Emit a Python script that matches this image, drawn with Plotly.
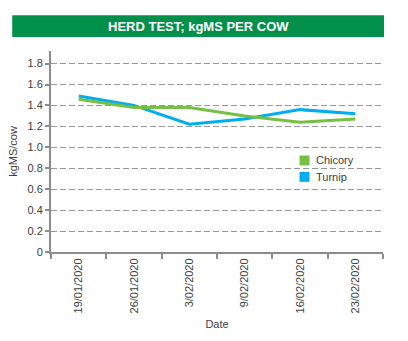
import plotly.graph_objects as go

dates = ["19/01/2020", "26/01/2020", "3/02/2020", "9/02/2020", "16/02/2020", "23/02/2020"]
chicory = [1.46, 1.38, 1.38, 1.30, 1.24, 1.27]
turnip = [1.49, 1.40, 1.22, 1.27, 1.36, 1.32]
series_names = ["Chicory", "Turnip"]
colors = ["#76C043", "#00AEEF"]
yticks = [0, 0.2, 0.4, 0.6, 0.8, 1.0, 1.2, 1.4, 1.6, 1.8]
yticklabels = ["0", "0.2", "0.4", "0.6", "0.8", "1.0", "1.2", "1.4", "1.6", "1.8"]

FONT = "Liberation Sans, Arial, sans-serif"

fig = go.Figure()
# lines (turnip first so chicory is on top)
fig.add_trace(go.Scatter(x=dates, y=turnip, mode="lines", name=series_names[1],
                         line=dict(color=colors[1], width=3), showlegend=False))
fig.add_trace(go.Scatter(x=dates, y=chicory, mode="lines", name=series_names[0],
                         line=dict(color=colors[0], width=3), showlegend=False))

W, H = 408, 341
L, R, T, B = 49, 25, 51, 88
pw, ph = W - L - R, H - T - B

def px2paper_x(px):
    return (px - L) / pw

def px2paper_y(py):
    return (H - B - py) / ph

# title banner
fig.add_shape(type="rect", xref="paper", yref="paper",
              x0=px2paper_x(10), x1=px2paper_x(384), y0=px2paper_y(37), y1=px2paper_y(15),
              fillcolor="#00904A", line=dict(width=0), layer="above")
fig.add_annotation(text="<b>HERD TEST; kgMS PER COW</b>", xref="paper", yref="paper",
                   x=px2paper_x(197), y=px2paper_y(26), showarrow=False,
                   font=dict(family=FONT, size=13, color="white"),
                   xanchor="center", yanchor="middle")

# manual legend (square swatches + labels)
for i, (name, c) in enumerate(zip(series_names, colors)):
    cy = 161 + i * 16.5
    fig.add_shape(type="rect", xref="paper", yref="paper",
                  x0=px2paper_x(299), x1=px2paper_x(309),
                  y0=px2paper_y(cy + 5), y1=px2paper_y(cy - 5),
                  fillcolor=c, line=dict(width=0), layer="above")
    fig.add_annotation(text=name, xref="paper", yref="paper",
                       x=px2paper_x(314), y=px2paper_y(cy), showarrow=False,
                       xanchor="left", yanchor="middle",
                       font=dict(family=FONT, size=11, color="#404040"))

fig.update_layout(
    width=W, height=H,
    margin=dict(l=L, r=R, t=T, b=B),
    paper_bgcolor="white", plot_bgcolor="white",
    font=dict(family=FONT, size=11, color="#404040"),
    showlegend=False,
    xaxis=dict(type="category", range=[-0.5, 5.5], tickangle=-90, tickson="boundaries",
               ticks="outside", ticklen=5, tickwidth=2, tickcolor="#8c8c8c",
               showline=True, linecolor="#8c8c8c", linewidth=2, showgrid=False,
               title=dict(text="Date", font=dict(size=11), standoff=8),
               tickfont=dict(size=11, color="#404040")),
    yaxis=dict(range=[0, 1.92], tickvals=yticks, ticktext=yticklabels,
               ticks="outside", ticklen=4, tickwidth=2, tickcolor="#8c8c8c",
               showline=True, linecolor="#8c8c8c", linewidth=2,
               showgrid=True, gridcolor="#999999", griddash="6px,3px", gridwidth=1,
               zeroline=False,
               title=dict(text="kgMS/cow", font=dict(size=11), standoff=8),
               tickfont=dict(size=11, color="#404040")),
)

fig.write_html("out.html")
